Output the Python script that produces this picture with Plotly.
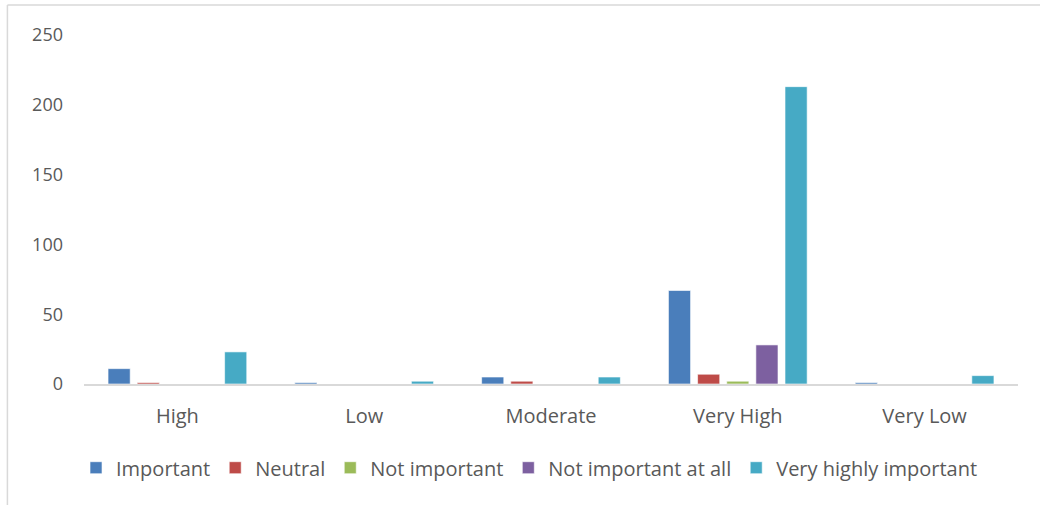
import plotly.graph_objects as go

categories = ["High", "Low", "Moderate", "Very High", "Very Low"]
series_names = ["Important", "Neutral", "Not important", "Not important at all", "Very highly important"]
important = [11, 1, 5, 67, 1]
neutral = [1, 0, 2, 7, 0]
not_important = [0, 0, 0, 2, 0]
not_important_at_all = [0, 0, 0, 28, 0]
very_highly_important = [23, 2, 5, 213, 6]
colors = ["#4A7EBB", "#BE4B48", "#9BBB59", "#7D60A0", "#46AAC5"]
y_ticks = [0, 50, 100, 150, 200, 250]

series_values = [important, neutral, not_important, not_important_at_all, very_highly_important]

fig = go.Figure()
for name, vals, c in zip(series_names, series_values, colors):
    fig.add_trace(go.Bar(
        x=categories, y=vals, name=name,
        marker=dict(color=c, line=dict(color="rgba(255,255,255,0.6)", width=1)),
    ))

fig.update_layout(
    width=1040, height=505,
    margin=dict(l=84, r=22, t=35, b=121),
    paper_bgcolor="white", plot_bgcolor="white",
    barmode="group", bargap=0.22, bargroupgap=0.24,
    font=dict(family="Open Sans, sans-serif", size=17, color="#595959"),
    xaxis=dict(showline=True, linecolor="#D9D9D9", linewidth=2, ticks="",
               tickfont=dict(size=20, color="#595959"), showgrid=False,
               ticklabelstandoff=13),
    yaxis=dict(range=[0, 250], tickvals=y_ticks, showgrid=False, zeroline=False,
               showline=False, ticks="", tickfont=dict(size=18, color="#595959"),
               ticklabelstandoff=20),
    legend=dict(orientation="h", x=0.477, xanchor="center", y=-0.184, yanchor="top",
                font=dict(size=20, color="#595959"), itemwidth=30,
                tracegroupgap=0),
    shapes=[
        dict(type="line", xref="paper", yref="paper", x0=-0.082, x1=1.03, y0=1.086, y1=1.086,
             line=dict(color="#D9D9D9", width=1.5)),
        dict(type="line", xref="paper", yref="paper", x0=-0.082, x1=-0.082, y0=1.086, y1=-0.4,
             line=dict(color="#D9D9D9", width=1.5)),
    ],
)

fig.write_html("out.html")
